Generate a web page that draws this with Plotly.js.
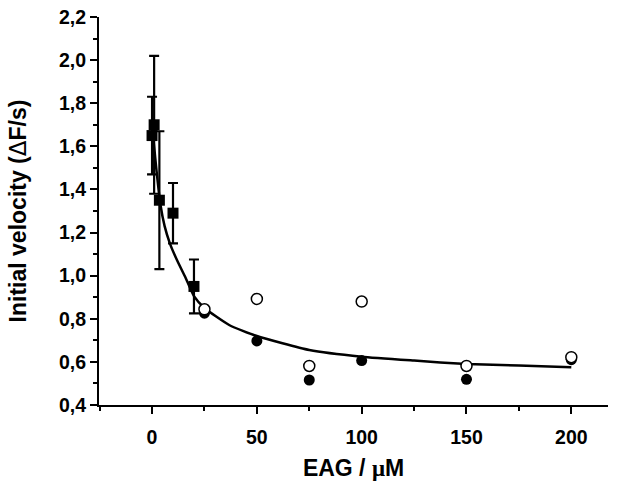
<!DOCTYPE html>
<html>
<head>
<meta charset="utf-8">
<script src="https://cdn.plot.ly/plotly-3.0.1.min.js"></script>
<style>html,body{margin:0;padding:0;background:#fff;}#chart{width:630px;height:488px;}</style>
</head>
<body>
<div id="chart"></div>
<script>
// Squares with error bars (low concentration)
const sqX = [0, 1, 3.5, 10, 20];
const sqY = [1.65, 1.70, 1.35, 1.29, 0.95];
const sqErr = [0.18, 0.32, 0.32, 0.14, 0.125];

// Filled circles
const fillX = [25, 50, 75, 100, 150, 200];
const fillY = [0.826, 0.697, 0.516, 0.606, 0.519, 0.61];

// Open circles
const openX = [25, 50, 75, 100, 150, 200];
const openY = [0.844, 0.892, 0.581, 0.880, 0.581, 0.622];

// Fitted curve
const fitX = [0, 1, 2, 4, 6, 8.5, 12, 16, 20, 25, 37, 50, 75, 100, 125, 150, 175, 200];
const fitY = [1.70, 1.60, 1.50, 1.33, 1.23, 1.15, 1.07, 0.99, 0.905, 0.85, 0.77, 0.72, 0.655, 0.624, 0.606, 0.590, 0.583, 0.575];

const xTicks = [0, 50, 100, 150, 200];
const yTicks = [0.4, 0.6, 0.8, 1.0, 1.2, 1.4, 1.6, 1.8, 2.0, 2.2];

const traces = [
  {x: fitX, y: fitY, mode: 'lines', line: {color: '#000', width: 2.5, shape: 'spline', smoothing: 0.5}, hoverinfo: 'skip'},
  {x: fillX, y: fillY, mode: 'markers', marker: {symbol: 'circle', size: 11, color: '#000'}},
  {x: openX, y: openY, mode: 'markers', marker: {symbol: 'circle', size: 11, color: '#fff', line: {color: '#000', width: 1.5}}},
  {x: sqX, y: sqY, mode: 'markers', marker: {symbol: 'square', size: 11, color: '#000'},
   error_y: {type: 'data', array: sqErr, visible: true, color: '#000', thickness: 2.2, width: 5}}
];

const fam = 'Liberation Sans, Arial, sans-serif';
const tickFont = {family: fam, size: 19.5, color: '#000'};
const titleFont = {family: fam, size: 23, color: '#000'};

const layout = {
  width: 630, height: 488,
  margin: {l: 99, r: 22, t: 17, b: 83},
  paper_bgcolor: '#fff', plot_bgcolor: '#fff',
  showlegend: false,
  font: {family: fam, color: '#000'},
  xaxis: {
    range: [-25.3, 217.5], showgrid: false, zeroline: false,
    showline: true, linecolor: '#000', linewidth: 2,
    ticks: 'outside', ticklen: 7, tickwidth: 2, tickcolor: '#000',
    tickvals: xTicks, ticktext: xTicks.map(v => '<b>' + v + '</b>'),
    ticklabelstandoff: 7,
    tickfont: tickFont,
    minor: {ticks: 'outside', ticklen: 4, tickwidth: 2, tickcolor: '#000', tick0: 0, dtick: 25},
    title: {text: '<b>EAG / <span style="font-family:serif">μ</span>M</b>', font: titleFont, standoff: 12}
  },
  yaxis: {
    range: [0.4, 2.2], showgrid: false, zeroline: false,
    showline: true, linecolor: '#000', linewidth: 2,
    ticks: 'outside', ticklen: 7, tickwidth: 2, tickcolor: '#000',
    tickvals: yTicks, ticktext: yTicks.map(v => '<b>' + v.toFixed(1).replace('.', ',') + '</b>'),
    tickfont: tickFont,
    minor: {ticks: 'outside', ticklen: 4, tickwidth: 2, tickcolor: '#000', tick0: 0.4, dtick: 0.1},
    title: {text: '<b>Initial velocity (<span style="font-family:DejaVu Sans;font-weight:normal">Δ</span>F/s)</b>', font: titleFont, standoff: 26}
  }
};

Plotly.newPlot('chart', traces, layout, {displayModeBar: false, staticPlot: true});
</script>
</body>
</html>
